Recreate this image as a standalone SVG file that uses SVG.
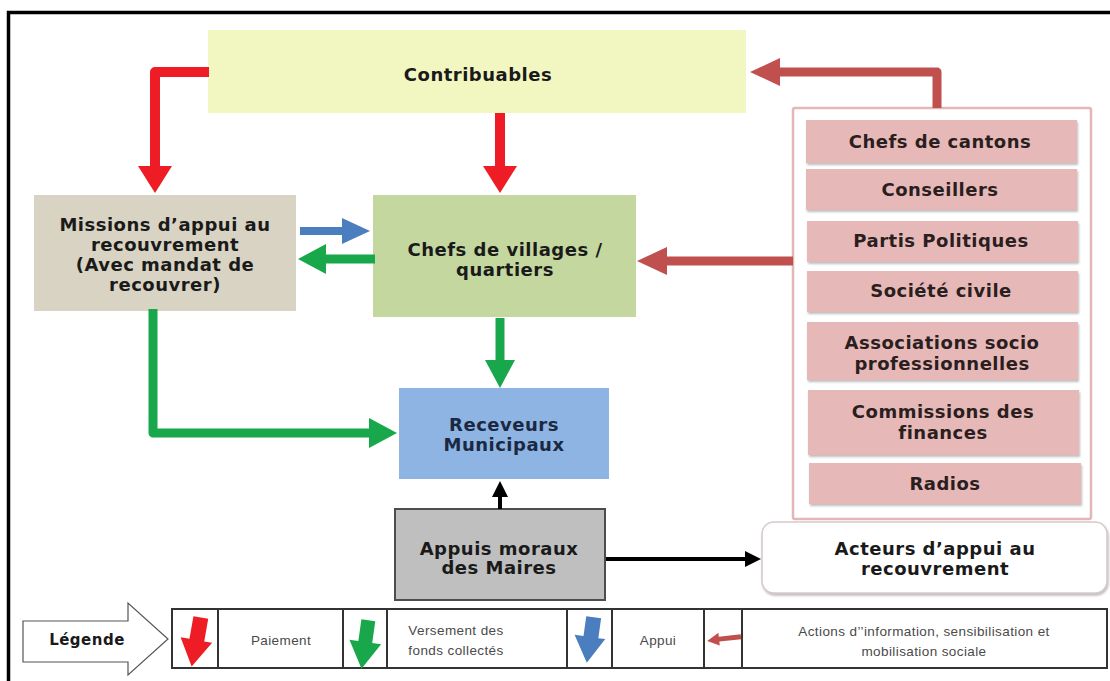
<svg xmlns="http://www.w3.org/2000/svg" width="1110" height="681" viewBox="0 0 1110 681">
<style>
.b{font-family:"DejaVu Sans",Verdana,sans-serif;font-weight:bold;font-size:18px;letter-spacing:.5px;text-anchor:middle;dominant-baseline:central;fill:#1a1a1a}
.pk{fill:#2b1e1e}
.nv{fill:#1b2842}
.lg{font-family:"Liberation Sans",Arial,sans-serif;font-size:13.5px;letter-spacing:.4px;text-anchor:middle;dominant-baseline:central;fill:#4a4a4a}
.item{fill:#e6b9b8;filter:url(#sh)}
.ln{fill:none;stroke-linejoin:round}
.red{stroke:#ee1c24;stroke-width:10}
.grn{stroke:#18a84b;stroke-width:9}
.blu{stroke:#4a7ebf;stroke-width:8}
.brn{stroke:#c0504d;stroke-width:9}
.blk{stroke:#000;stroke-width:4}
.cell{stroke:#333;stroke-width:2}
</style>
<defs>
<filter id="sh" x="-5%" y="-10%" width="115%" height="130%"><feDropShadow dx="1" dy="2" stdDeviation="1.2" flood-color="#888" flood-opacity="0.55"/></filter>
<marker id="mRed" markerUnits="userSpaceOnUse" viewBox="0 -17 27 34" refX="1" refY="0" markerWidth="27" markerHeight="34" orient="auto"><path d="M0,-17 L27,0 L0,17 Z" fill="#ee1c24"/></marker>
<marker id="mGrn" markerUnits="userSpaceOnUse" viewBox="0 -15 28 30" refX="1" refY="0" markerWidth="28" markerHeight="30" orient="auto"><path d="M0,-15 L28,0 L0,15 Z" fill="#18a84b"/></marker>
<marker id="mBlu" markerUnits="userSpaceOnUse" viewBox="0 -13 28 26" refX="1" refY="0" markerWidth="28" markerHeight="26" orient="auto"><path d="M0,-13 L28,0 L0,13 Z" fill="#4a7ebf"/></marker>
<marker id="mBrn" markerUnits="userSpaceOnUse" viewBox="0 -14 30 28" refX="1" refY="0" markerWidth="30" markerHeight="28" orient="auto"><path d="M0,-14 L30,0 L0,14 Z" fill="#c0504d"/></marker>
<marker id="mBlk" markerUnits="userSpaceOnUse" viewBox="0 -8 16 16" refX="1" refY="0" markerWidth="16" markerHeight="16" orient="auto"><path d="M0,-8 L16,0 L0,8 Z" fill="#000"/></marker>
</defs>
<rect width="1110" height="681" fill="#fff"/>
<path d="M8.5,690 V12.5 H1120" fill="none" stroke="#000" stroke-width="3.5"/>

<g id="contribuables"><rect x="208" y="30" width="538" height="83" fill="#f2f7c1"/><text class="b" x="478" y="74">Contribuables</text></g>
<g id="missions"><rect x="34" y="195" width="262" height="116" fill="#d8d3c2"/>
<text class="b" x="165" y="224">Missions d’appui au</text><text class="b" x="165" y="244">recouvrement</text><text class="b" x="165" y="264">(Avec mandat de</text><text class="b" x="165" y="284">recouvrer)</text></g>
<g id="chefs-villages"><rect x="373" y="195" width="263" height="122" fill="#c4d79e"/>
<text class="b" x="505" y="249">Chefs de villages /</text><text class="b" x="505" y="269">quartiers</text></g>
<g id="receveurs"><rect x="399" y="388" width="210" height="91" fill="#8db4e2"/>
<text class="b nv" x="504" y="424">Receveurs</text><text class="b nv" x="504" y="444">Municipaux</text></g>
<g id="appuis"><rect x="395" y="509" width="210" height="91" fill="#bfbfbf" stroke="#4d4d4d" stroke-width="2"/>
<text class="b" x="499" y="548">Appuis moraux</text><text class="b" x="499" y="567">des Maires</text></g>
<g id="acteurs-liste"><rect x="793" y="108" width="298" height="411" rx="2" fill="#fff" stroke="#e3b7b7" stroke-width="2.5"/>
<rect class="item" x="806" y="120" width="271" height="43"/><text class="b pk" x="940" y="141">Chefs de cantons</text>
<rect class="item" x="806" y="169" width="271" height="41"/><text class="b pk" x="940" y="189">Conseillers</text>
<rect class="item" x="807" y="221" width="271" height="41"/><text class="b pk" x="941" y="240">Partis Politiques</text>
<rect class="item" x="807" y="271" width="271" height="41"/><text class="b pk" x="941" y="290">Société civile</text>
<rect class="item" x="807" y="322" width="271" height="58"/><text class="b pk" x="942" y="342">Associations socio</text><text class="b pk" x="942" y="363">professionnelles</text>
<rect class="item" x="808" y="390" width="271" height="65"/><text class="b pk" x="943" y="411">Commissions des</text><text class="b pk" x="943" y="432">finances</text>
<rect class="item" x="809" y="463" width="272" height="41"/><text class="b pk" x="945" y="483">Radios</text></g>
<g id="acteurs"><rect x="762" y="522" width="345" height="71" rx="12" fill="#fff" stroke="#d8c9c9" stroke-width="1.5" filter="url(#sh)"/>
<text class="b" x="935" y="548">Acteurs d’appui  au</text><text class="b" x="935" y="568">recouvrement</text></g>

<g id="connecteurs">
<path class="ln red" d="M209,72 H155 V167" marker-end="url(#mRed)" stroke-linejoin="miter"/>
<path class="ln red" d="M500,113 V167" marker-end="url(#mRed)"/>
<path class="ln blu" d="M300,231 H343" marker-end="url(#mBlu)"/>
<path class="ln grn" d="M375,259 H325" marker-end="url(#mGrn)"/>
<path class="ln grn" d="M153,309 V433 H370" marker-end="url(#mGrn)"/>
<path class="ln grn" d="M500,318 V361" marker-end="url(#mGrn)"/>
<path class="ln brn" d="M793,261 H666" marker-end="url(#mBrn)"/>
<path class="ln brn" d="M937,108 V72 H779" marker-end="url(#mBrn)"/>
<path class="ln blk" d="M500,509 V496" marker-end="url(#mBlk)"/>
<path class="ln blk" d="M606,559 H746" marker-end="url(#mBlk)"/>
</g>

<g id="legende">
<polygon points="23,621 128,621 128,603 168,639 128,675 128,662 23,662" fill="#fff" stroke="#555" stroke-width="1.2"/>
<text class="b" x="87" y="640" style="font-size:15px">Légende</text>
<rect x="172" y="609" width="935" height="59" fill="#fff" class="cell"/>
<path class="cell" d="M218,609 V668 M343,609 V668 M387,609 V668 M567,609 V668 M612,609 V668 M704,609 V668 M742,609 V668"/>
<g transform="rotate(10 196 642)"><polygon points="189,617 204,617 204,640 212,640 196,667 180,640 189,640" fill="#ee1c24"/></g>
<g transform="rotate(8 365 644)"><polygon points="358,620 372,620 372,642 381,642 365,669 349,642 358,642" fill="#18a84b"/></g>
<g transform="rotate(8 590 640)"><polygon points="583,617 598,617 598,637 605,637 590,663 574,637 583,637" fill="#4a7ebf"/></g>
<g transform="rotate(-6 725 638)"><polygon points="741,636 719,636 719,632 707,639 719,645 719,641 741,641" fill="#c0504d"/></g>
<text class="lg" x="281" y="640">Paiement</text>
<text class="lg" x="456" y="630">Versement des</text><text class="lg" x="456" y="650">fonds collectés</text>
<text class="lg" x="658" y="640">Appui</text>
<text class="lg" x="924" y="631">Actions d’’information, sensibilisation et</text><text class="lg" x="924" y="651">mobilisation sociale</text>
</g>
</svg>
